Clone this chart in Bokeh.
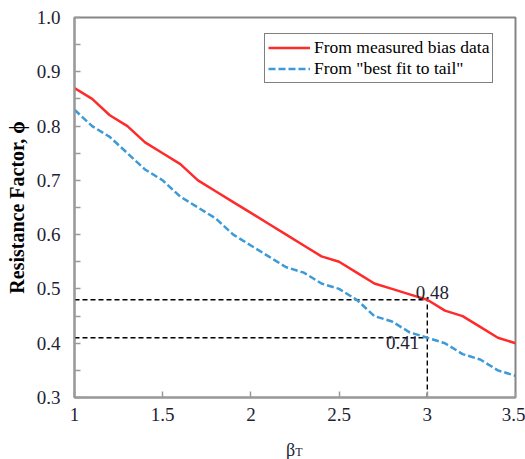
from bokeh.plotting import figure
from bokeh.models import FixedTicker, Label, Legend, LegendItem, Range1d
from bokeh.embed import file_html
from bokeh.resources import INLINE

# ---- data ----
beta = [1.0, 1.1, 1.2, 1.3, 1.4, 1.5, 1.6, 1.7, 1.8, 1.9, 2.0, 2.1, 2.2,
        2.3, 2.4, 2.5, 2.6, 2.7, 2.8, 2.9, 3.0, 3.1, 3.2, 3.3, 3.4, 3.5]
phi_measured = [0.87, 0.85, 0.82, 0.80, 0.77, 0.75, 0.73, 0.70, 0.68, 0.66,
                0.64, 0.62, 0.60, 0.58, 0.56, 0.55, 0.53, 0.51, 0.50, 0.49,
                0.48, 0.46, 0.45, 0.43, 0.41, 0.40]
phi_tail = [0.83, 0.80, 0.78, 0.75, 0.72, 0.70, 0.67, 0.65, 0.63, 0.60,
            0.58, 0.56, 0.54, 0.53, 0.51, 0.50, 0.48, 0.45, 0.44, 0.42,
            0.41, 0.40, 0.38, 0.37, 0.35, 0.34]
series_names = ["From measured bias data", 'From "best fit to tail"']
target_beta = 3.0
phi_at_target = [0.48, 0.41]
x_ticks = [1, 1.5, 2, 2.5, 3, 3.5]
x_tick_labels = ["1", "1.5", "2", "2.5", "3", "3.5"]
y_ticks = [0.3, 0.4, 0.5, 0.6, 0.7, 0.8, 0.9, 1.0]
y_tick_labels = ["0.3", "0.4", "0.5", "0.6", "0.7", "0.8", "0.9", "1.0"]

FONT = "Liberation Serif"
TXT = "#1e2233"
AXC = "#9a9a9a"

p = figure(width=525, height=459, output_backend="svg", toolbar_location=None,
           x_range=Range1d(1, 3.5), y_range=Range1d(0.3, 1.0),
           min_border_left=74, min_border_right=10, min_border_top=17,
           min_border_bottom=62)
p.background_fill_color = "white"
p.border_fill_color = "white"
p.grid.visible = False
p.outline_line_color = "#858585"
p.outline_line_width = 2

# reference dashed lines
p.line([beta[0], target_beta], [phi_at_target[0]] * 2, line_color="black",
       line_width=1.4, line_dash="5 3")
p.line([beta[0], target_beta], [phi_at_target[1]] * 2, line_color="black",
       line_width=1.4, line_dash="5 3")
p.line([target_beta, target_beta], [y_ticks[0], phi_at_target[0]],
       line_color="black", line_width=1.4, line_dash="5 3")

r1 = p.line(beta, phi_measured, line_color="#ff2b2b", line_width=2.5)
r2 = p.line(beta, phi_tail, line_color="#3c9ad8", line_width=2.5,
            line_dash="7 3")

# axes
for ax in (p.xaxis[0], p.yaxis[0]):
    ax.axis_line_color = AXC
    ax.axis_line_width = 2
    ax.major_tick_line_color = AXC
    ax.major_tick_line_width = 1.5
    ax.minor_tick_line_color = AXC
    ax.minor_tick_line_width = 1.5
    ax.major_tick_in = 6
    ax.major_tick_out = 0
    ax.minor_tick_in = 6
    ax.minor_tick_out = 0
    ax.major_label_text_font = FONT
    ax.major_label_text_font_size = "19px"
    ax.major_label_text_color = TXT

p.xaxis.ticker = FixedTicker(ticks=x_ticks)
p.xaxis.major_label_overrides = dict(zip(x_ticks, x_tick_labels))
p.xaxis.major_label_standoff = 10
minor_y = [round(v + 0.05, 2) for v in y_ticks[:-1]]
p.yaxis.ticker = FixedTicker(ticks=y_ticks, minor_ticks=minor_y)
p.yaxis.major_label_overrides = dict(zip(y_ticks, y_tick_labels))
p.yaxis.major_label_standoff = 14
p.yaxis.axis_label = "Resistance Factor, \u03d5"
p.yaxis.axis_label_text_font = FONT
p.yaxis.axis_label_text_font_style = "bold"
p.yaxis.axis_label_text_font_size = "20px"
p.yaxis.axis_label_text_color = "black"
p.yaxis.axis_label_standoff = 6

# x axis label beta_T (hosted in side panels so it is not clipped)
p.add_layout(Label(x=2.199, y=0.3, y_offset=-52, text="\u03b2", text_font=FONT,
                   text_font_size="18px", text_color=TXT,
                   text_baseline="alphabetic", text_align="left"), "below")
p.add_layout(Label(x=2.252, y=0.3, y_offset=-54, text="T", text_font=FONT,
                   text_font_size="12px", text_color=TXT,
                   text_baseline="alphabetic", text_align="left"), "right")

# value annotations
p.add_layout(Label(x=target_beta, y=phi_at_target[0], x_offset=5, y_offset=1,
                   text=f"{phi_at_target[0]:.2f}", text_font=FONT,
                   text_font_size="19px", text_color=TXT, text_align="center",
                   text_baseline="bottom"))
p.add_layout(Label(x=target_beta, y=phi_at_target[1], x_offset=-8, y_offset=2,
                   text=f"{phi_at_target[1]:.2f}", text_font=FONT,
                   text_font_size="19px", text_color=TXT, text_align="right",
                   text_baseline="top"))

legend = Legend(items=[LegendItem(label=series_names[0], renderers=[r1]),
                       LegendItem(label=series_names[1], renderers=[r2])],
                location=(190, 314))
legend.label_text_font = FONT
legend.label_text_font_size = "17.5px"
legend.label_text_color = "black"
legend.glyph_width = 42
legend.glyph_height = 17
legend.label_height = 17
legend.label_standoff = 4
legend.padding = 3
legend.margin = 0
legend.spacing = 0
legend.border_line_color = "black"
legend.border_line_width = 1.5
legend.background_fill_color = "white"
legend.background_fill_alpha = 1
p.add_layout(legend, "center")

open("out.html", "w").write(file_html(p, INLINE))
